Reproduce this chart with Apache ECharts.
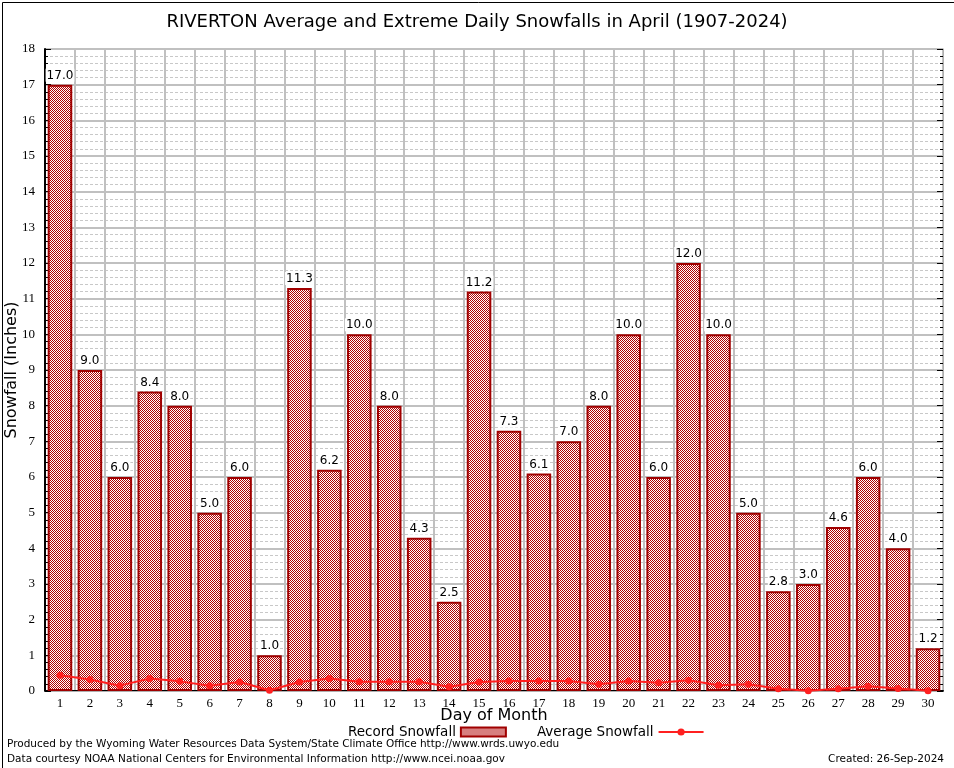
<!DOCTYPE html>
<html>
<head>
<meta charset="utf-8">
<script src="https://cdn.jsdelivr.net/npm/echarts@6/dist/echarts.min.js"></script>
<style>
html,body{margin:0;padding:0;background:#fff;}
#chart{width:954px;height:768px;}
</style>
</head>
<body>
<div id="chart"></div>
<script>
var days = ['1','2','3','4','5','6','7','8','9','10','11','12','13','14','15','16','17','18','19','20','21','22','23','24','25','26','27','28','29','30'];
var recordSnowfall = [17.0,9.0,6.0,8.4,8.0,5.0,6.0,1.0,11.3,6.2,10.0,8.0,4.3,2.5,11.2,7.3,6.1,7.0,8.0,10.0,6.0,12.0,10.0,5.0,2.8,3.0,4.6,6.0,4.0,1.2];
var averageSnowfall = [0.44,0.32,0.15,0.35,0.27,0.15,0.25,0.02,0.25,0.35,0.26,0.26,0.26,0.12,0.25,0.28,0.28,0.28,0.19,0.28,0.23,0.30,0.16,0.19,0.06,0.01,0.06,0.13,0.07,0.01];
var yTicks = {min:0, max:18, interval:1};

var cv = document.createElement('canvas');
cv.width = 2; cv.height = 2;
var cx = cv.getContext('2d');
cx.fillStyle = '#ffffff'; cx.fillRect(0,0,2,2);
cx.fillStyle = '#b00000'; cx.fillRect(0,0,1,1); cx.fillRect(1,1,1,1);
var pattern = {image: cv, repeat: 'repeat'};

var chart = echarts.init(document.getElementById('chart'), null, {renderer:'canvas'});
var serif = 'Liberation Serif';
var sans = 'DejaVu Sans';
chart.setOption({
  animation: false,
  backgroundColor: '#fff',
  title: {
    text: 'RIVERTON Average and Extreme Daily Snowfalls in April (1907-2024)',
    left: 'center', top: 8,
    textStyle: {fontFamily: sans, fontSize: 18, fontWeight: 'normal', color: '#000'}
  },
  legend: {
    left: 343, top: 720,
    align: 'right',
    itemWidth: 45, itemHeight: 9, itemGap: 30,
    textStyle: {fontFamily: sans, fontSize: 13.5, color: '#000'},
    data: [{name:'Record Snowfall', icon:'rect'}, {name:'Average Snowfall'}]
  },
  grid: {left: 45, right: 11, top: 49, bottom: 77, outerBoundsMode: 'none', containLabel: false},
  xAxis: [{
    type: 'category', data: days, boundaryGap: true,
    name: 'Day of Month', nameLocation: 'middle', nameGap: 17, nameMoveOverlap: false,
    nameTextStyle: {fontFamily: sans, fontSize: 16, color: '#000'},
    axisLine: {lineStyle: {color: '#000', width: 2}},
    axisTick: {inside: true, length: 6, lineStyle: {color: '#000'}},
    axisLabel: {fontFamily: serif, fontSize: 13, color: '#000', margin: 6},
    splitLine: {show: true, lineStyle: {color: '#c0c0c0', width: 2}}
  }, {
    type: 'category', data: days, boundaryGap: true, position: 'top',
    axisLine: {lineStyle: {color: '#b0b0b0', width: 1}},
    axisTick: {inside: true, length: 6, lineStyle: {color: '#000', width: 2}},
    axisLabel: {show: false}, splitLine: {show: false}
  }],
  yAxis: [{
    type: 'value', min: yTicks.min, max: yTicks.max, interval: yTicks.interval,
    name: 'Snowfall (Inches)', nameLocation: 'middle', nameGap: 25, nameMoveOverlap: false,
    nameTextStyle: {fontFamily: sans, fontSize: 16, color: '#000'},
    axisLine: {show: true, lineStyle: {color: '#000', width: 2}},
    axisTick: {show: true, inside: true, length: 6, lineStyle: {color: '#000'}},
    minorTick: {show: true, splitNumber: 5, length: 3, lineStyle: {color: '#000'}},
    axisLabel: {fontFamily: serif, fontSize: 13, color: '#000', margin: 10},
    splitLine: {show: true, lineStyle: {color: '#c0c0c0', width: 2}},
    minorSplitLine: {show: true, lineStyle: {color: '#c8c8c8', width: 1, type: [3,2]}}
  }, {
    type: 'value', min: yTicks.min, max: yTicks.max, interval: yTicks.interval, position: 'right',
    axisLine: {show: true, lineStyle: {color: '#b0b0b0', width: 1}},
    axisTick: {show: true, inside: true, length: 6, lineStyle: {color: '#000'}},
    minorTick: {show: true, splitNumber: 5, length: 3, lineStyle: {color: '#000'}},
    axisLabel: {show: false}, splitLine: {show: false}
  }],
  series: [{
    name: 'Record Snowfall', type: 'bar', data: recordSnowfall,
    barWidth: '82%',
    itemStyle: {color: pattern, borderColor: '#a00000', borderWidth: 2},
    label: {
      show: true, position: 'top', distance: 3,
      fontFamily: sans, fontSize: 12, color: '#000',
      backgroundColor: '#fff', padding: [1,1,0,1],
      formatter: function(p){ return p.value.toFixed(1); }
    },
    z: 2
  }, {
    name: 'Average Snowfall', type: 'line', data: averageSnowfall,
    symbol: 'circle', symbolSize: 7,
    lineStyle: {color: '#ff2020', width: 2},
    itemStyle: {color: '#ff2020'},
    z: 3
  }],
  graphic: [
    {type:'rect', left:0, top:0, shape:{width:953, height:767}, style:{fill:'none', stroke:'#000', lineWidth:1}, silent:true},
    {type:'text', left:7, top:739, style:{text:'Produced by the Wyoming Water Resources Data System/State Climate Office http://www.wrds.uwyo.edu', font:'10.5px "DejaVu Sans"', fill:'#000'}},
    {type:'text', left:7, top:754, style:{text:'Data courtesy NOAA National Centers for Environmental Information http://www.ncei.noaa.gov', font:'10.5px "DejaVu Sans"', fill:'#000'}},
    {type:'text', right:10, top:754, style:{text:'Created: 26-Sep-2024', font:'10.5px "DejaVu Sans"', fill:'#000'}}
  ]
});
</script>
</body>
</html>
